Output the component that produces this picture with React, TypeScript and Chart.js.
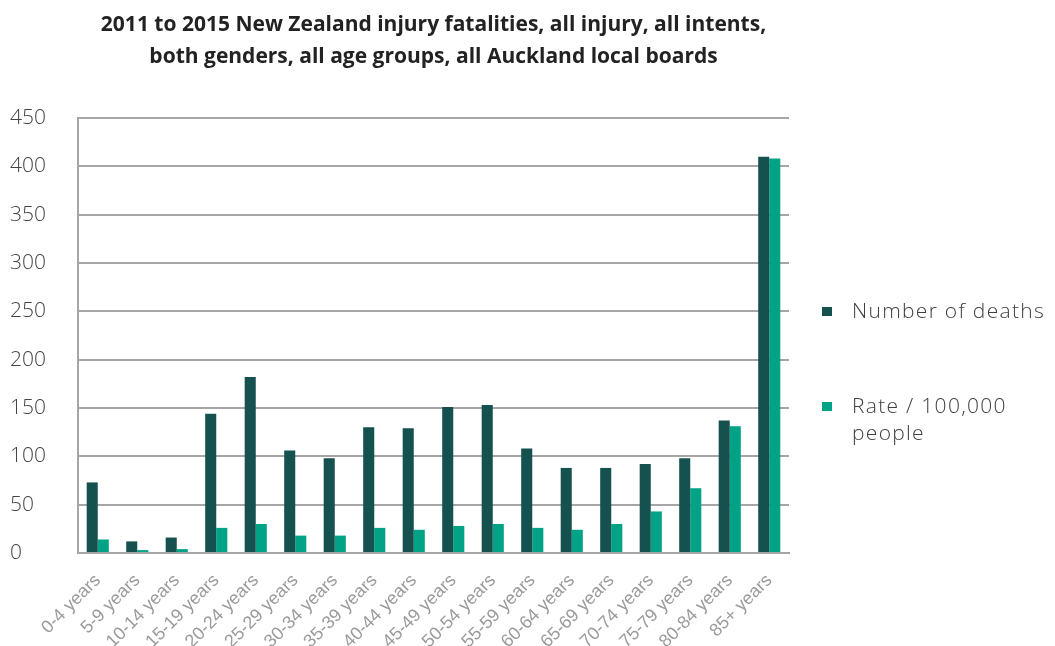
import React, { useEffect, useRef } from "react";
import { Chart, registerables } from "chart.js";

Chart.register(...registerables);

const titleLines = [
  "2011 to 2015 New Zealand injury fatalities, all injury, all intents,",
  "both genders, all age groups, all Auckland local boards",
];

const categories = [
  "0-4 years", "5-9 years", "10-14 years", "15-19 years", "20-24 years",
  "25-29 years", "30-34 years", "35-39 years", "40-44 years", "45-49 years",
  "50-54 years", "55-59 years", "60-64 years", "65-69 years", "70-74 years",
  "75-79 years", "80-84 years", "85+ years",
];

const deaths = [73, 12, 16, 144, 182, 106, 98, 130, 129, 151, 153, 108, 88, 88, 92, 98, 137, 410];
const rates = [14, 3, 4, 26, 30, 18, 18, 26, 24, 28, 30, 26, 24, 30, 43, 67, 131, 408];

const seriesNames = ["Number of deaths", "Rate / 100,000 people"];
const legendLines = [["Number of deaths"], ["Rate / 100,000", "people"]];
const colors = ["#15514f", "#00a386"];

const yMin = 0;
const yMax = 450;
const yStep = 50;

export default function App() {
  const ref = useRef<HTMLCanvasElement | null>(null);

  useEffect(() => {
    if (!ref.current) return;
    const chart = new Chart(ref.current, {
      type: "bar",
      data: {
        labels: categories,
        datasets: [
          {
            label: seriesNames[0],
            data: deaths,
            backgroundColor: colors[0],
            categoryPercentage: 0.56,
            barPercentage: 1,
          },
          {
            label: seriesNames[1],
            data: rates,
            backgroundColor: colors[1],
            categoryPercentage: 0.56,
            barPercentage: 1,
          },
        ],
      },
      options: {
        responsive: false,
        animation: false,
        layout: { padding: { left: 10, right: 266, top: 0, bottom: 0 } },
        plugins: {
          legend: { display: false },
          tooltip: { enabled: false },
          title: {
            display: true,
            text: titleLines,
            fullSize: false,
            color: "#222222",
            font: { family: "'Open Sans', sans-serif", size: 21, weight: "bold", lineHeight: "32px" },
            padding: { top: 9, bottom: 45 },
          },
        },
        scales: {
          x: {
            grid: { display: false, drawTicks: false },
            border: { display: true, color: "#a6a6a6", width: 2 },
            ticks: {
              color: "#9a9a9a",
              font: { family: "'Liberation Sans', Arial, sans-serif", size: 18 },
              minRotation: 45,
              maxRotation: 45,
              padding: 17,
              autoSkip: false,
            },
            afterFit: (scale: any) => {
              scale.height = 93;
            },
          },
          y: {
            min: yMin,
            max: yMax,
            grid: { color: "#a6a6a6", lineWidth: 2, drawTicks: false },
            border: { display: true, color: "#a6a6a6", width: 2 },
            ticks: {
              stepSize: yStep,
              color: "#444444",
              crossAlign: "far",
              font: { family: "'Open Sans', sans-serif", size: 21, weight: "300" },
            },
            afterFit: (scale: any) => {
              scale.width = 68;
            },
          },
        },
      },
    });
    return () => chart.destroy();
  }, []);

  const legendTops = [297, 392];

  return (
    <div style={{ position: "fixed", left: 0, top: 0, width: 1055, height: 646, background: "#fff" }}>
      <canvas ref={ref} width={1055} height={646} style={{ display: "block" }} />
      {legendLines.map((lines, i) => (
        <div
          key={i}
          style={{
            position: "absolute",
            left: 822,
            top: legendTops[i],
            display: "flex",
            alignItems: "flex-start",
            fontFamily: "'Open Sans', sans-serif",
            fontWeight: 300,
            fontSize: 21,
            letterSpacing: "1.3px",
            lineHeight: "27px",
            color: "#404040",
            whiteSpace: "nowrap",
          }}
        >
          <span
            style={{
              display: "inline-block",
              width: 10,
              height: 9,
              marginTop: 10,
              background: colors[i],
              marginRight: 20,
              flex: "none",
            }}
          />
          <span>
            {lines.map((l, j) => (
              <div key={j}>{l}</div>
            ))}
          </span>
        </div>
      ))}
    </div>
  );
}
